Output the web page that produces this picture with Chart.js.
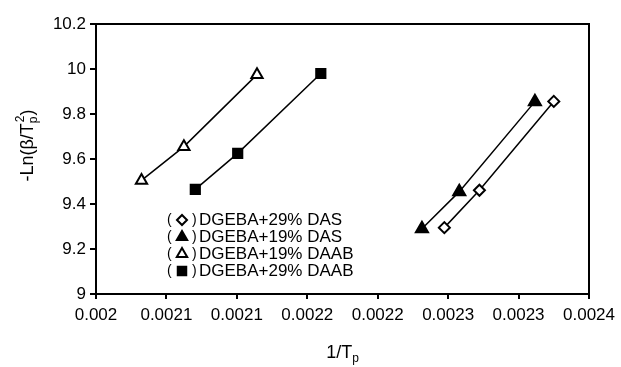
<!DOCTYPE html>
<html>
<head>
<meta charset="utf-8">
<script src="https://cdn.jsdelivr.net/npm/chart.js@4/dist/chart.umd.min.js"></script>
<style>
  html, body { margin:0; padding:0; background:#fff; }
  #c { display:block; }
</style>
</head>
<body>
<canvas id="c" width="621" height="367"></canvas>
<script>
// data
const das29X = [0.0022473, 0.0022722, 0.0023250];
const das29Y = [9.295, 9.461, 9.856];
const das19X = [0.0022314, 0.0022579, 0.0023116];
const das19Y = [9.290, 9.455, 9.855];
const daab19X = [0.0020323, 0.0020624, 0.0021143];
const daab19Y = [9.505, 9.655, 9.975];
const daab29X = [0.0020705, 0.0021006, 0.0021596];
const daab29Y = [9.465, 9.625, 9.980];

const seriesNames = ["DGEBA+29% DAS", "DGEBA+19% DAS", "DGEBA+19% DAAB", "DGEBA+29% DAAB"];

const xTicks = [0.002, 0.00205, 0.0021, 0.00215, 0.0022, 0.00225, 0.0023, 0.00235];
const xTickLabels = ["0.002", "0.0021", "0.0021", "0.0022", "0.0022", "0.0023", "0.0023", "0.0024"];
const yTicks = [9, 9.2, 9.4, 9.6, 9.8, 10, 10.2];
const yTickLabels = ["9", "9.2", "9.4", "9.6", "9.8", "10", "10.2"];

const FONT = "'Liberation Sans', Arial, sans-serif";

function pts(xs, ys){
  return xs.map((x,i)=>({x:x, y:ys[i]}));
}

function ds(label, xs, ys, style, radius, fill){
  return {
    label: label,
    data: pts(xs, ys),
    showLine: true,
    borderColor: "#000",
    borderWidth: 1.5,
    pointStyle: style,
    pointRadius: radius,
    pointHoverRadius: radius,
    pointBackgroundColor: fill,
    pointBorderColor: "#000",
    pointBorderWidth: 2,
    fill: false
  };
}

const datasets = [
  ds(seriesNames[0], das29X, das29Y, "rectRot", 5.5, "#fff"),
  ds(seriesNames[1], das19X, das19Y, "triangle", 7, "#000"),
  ds(seriesNames[2], daab19X, daab19Y, "triangle", 6.5, "#fff"),
  ds(seriesNames[3], daab29X, daab29Y, "rect", 6.5, "#000")
];

/* ---------- frame, titles and legend ---------- */

const extras = {
  id: "extras",
  afterDraw(chart){
    const ctx = chart.ctx;
    const a = chart.chartArea;
    ctx.save();

    // top + right border of the plot box
    ctx.strokeStyle = "#000";
    ctx.lineWidth = 2;
    ctx.beginPath();
    ctx.moveTo(a.left, a.top);
    ctx.lineTo(a.right, a.top);
    ctx.lineTo(a.right, a.bottom);
    ctx.stroke();

    ctx.fillStyle = "#000";

    // x title 1/Tp
    const cx = (a.left + a.right) / 2;
    ctx.font = "18px " + FONT;
    ctx.textBaseline = "alphabetic";
    ctx.textAlign = "left";
    const w1 = ctx.measureText("1/T").width;
    ctx.font = "12px " + FONT;
    const w2 = ctx.measureText("p").width;
    let x0 = cx - (w1 + w2) / 2;
    ctx.font = "18px " + FONT;
    ctx.fillText("1/T", x0, 358);
    ctx.font = "12px " + FONT;
    ctx.fillText("p", x0 + w1, 362);

    // y title -Ln(β/Tp²)
    ctx.save();
    ctx.translate(33, 146);
    ctx.rotate(-Math.PI / 2);
    const parts = [
      {t:"-Ln(β/T", f:18, dy:0},
      {t:"p", f:12, dy:4},
      {t:"2", f:12, dy:-9},
      {t:")", f:18, dy:0}
    ];
    parts.forEach(p=>{ ctx.font = p.f + "px " + FONT; p.w = ctx.measureText(p.t).width; });
    const tw = parts[0].w + Math.max(parts[1].w, parts[2].w) + parts[3].w;
    let px = -tw / 2;
    ctx.font = "18px " + FONT; ctx.fillText(parts[0].t, px, 0); px += parts[0].w;
    ctx.font = "12px " + FONT; ctx.fillText(parts[1].t, px, parts[1].dy);
    ctx.fillText(parts[2].t, px + 1, parts[2].dy);
    px += Math.max(parts[1].w, parts[2].w) + 1;
    ctx.font = "18px " + FONT; ctx.fillText(parts[3].t, px, 0);
    ctx.restore();

    // legend inside plot
    const rowY = [219, 236, 253, 270];
    ctx.textBaseline = "middle";
    datasets.forEach((d,i)=>{
      const y = rowY[i];
      ctx.fillStyle = "#000";
      ctx.font = "14px " + FONT;
      ctx.fillText("(", 167, y + 1);
      ctx.fillText(")", 192, y + 1);
      ctx.lineWidth = 2;
      ctx.strokeStyle = "#000";
      ctx.fillStyle = d.pointBackgroundColor;
      Chart.helpers.drawPoint(ctx, {
        pointStyle: d.pointStyle,
        radius: d.pointStyle === "rectRot" ? 5 : 6,
        rotation: 0,
        borderWidth: 2
      }, 182, y + 1);
      ctx.fillStyle = "#000";
      ctx.font = "17px " + FONT;
      ctx.fillText(seriesNames[i], 199, y + 1);
    });

    ctx.restore();
  }
};

new Chart(document.getElementById("c"), {
  type: "scatter",
  data: { datasets: datasets },
  options: {
    responsive: false,
    animation: false,
    devicePixelRatio: 1,
    layout: { padding: { left: 0, right: 29, top: 24, bottom: 0 } },
    plugins: {
      legend: { display: false },
      tooltip: { enabled: false }
    },
    scales: {
      x: {
        type: "linear",
        min: 0.002,
        max: 0.00235,
        afterBuildTicks(scale){
          scale.ticks = xTicks.map(v=>({value:v}));
        },
        afterFit(scale){ scale.height = 73; },
        ticks: {
          color: "#000",
          font: { family: FONT, size: 17 },
          maxRotation: 0,
          autoSkip: false,
          padding: 6,
          callback: (v, i)=> xTickLabels[i]
        },
        grid: {
          drawOnChartArea: false,
          drawTicks: true,
          tickLength: 5,
          color: "#000",
          lineWidth: 2
        },
        border: { color: "#000", width: 2 }
      },
      y: {
        min: 9,
        max: 10.2,
        afterBuildTicks(scale){
          scale.ticks = yTicks.map(v=>({value:v}));
        },
        afterFit(scale){ scale.width = 96; },
        ticks: {
          color: "#000",
          font: { family: FONT, size: 17 },
          padding: 4,
          callback: (v, i)=> yTickLabels[i]
        },
        grid: {
          drawOnChartArea: false,
          drawTicks: true,
          tickLength: 6,
          color: "#000",
          lineWidth: 2
        },
        border: { color: "#000", width: 2 }
      }
    }
  },
  plugins: [extras]
});
</script>
</body>
</html>
